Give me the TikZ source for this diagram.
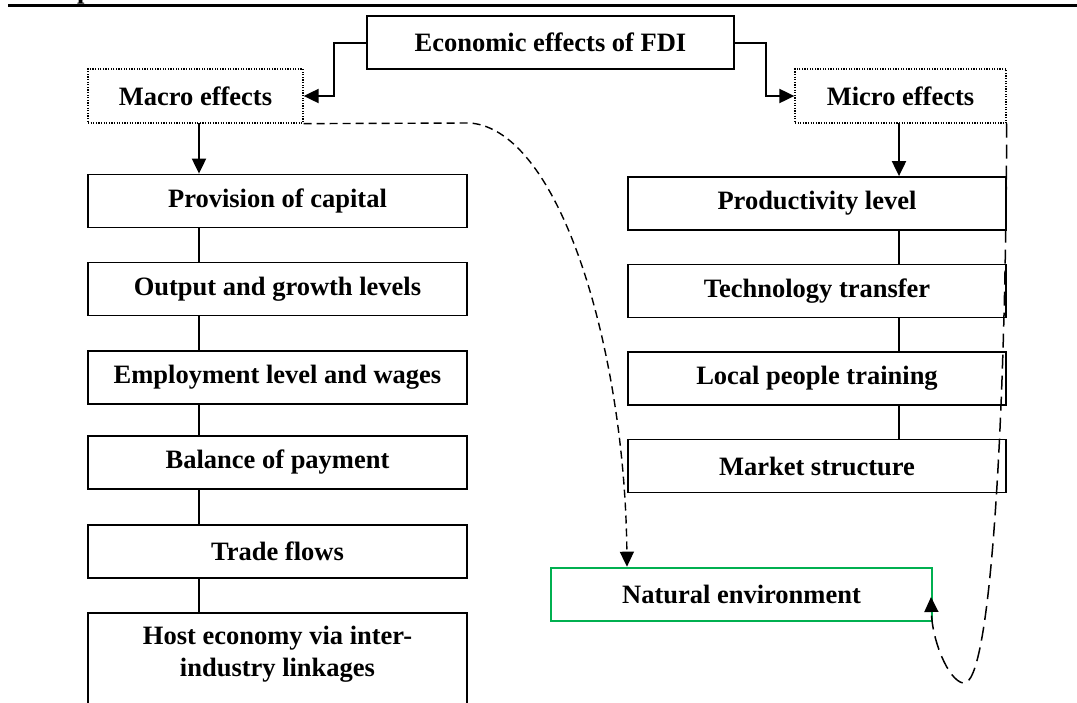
\documentclass[tikz,border=0pt]{standalone}
\usepackage{fontspec}
\setmainfont{Liberation Serif}
\usetikzlibrary{arrows.meta}
\definecolor{envgreen}{RGB}{0,176,80}
\begin{document}
\begin{tikzpicture}[x=1pt,y=-1pt,
  every node/.style={font=\bfseries\fontsize{26.5}{32}\selectfont, inner sep=0pt},
  solidbox/.style={draw, line width=1.8pt, minimum height=53pt},
  dotbox/.style={draw, line width=1.3pt, dash pattern=on 1.2pt off 1.4pt, minimum height=54pt},
  greenbox/.style={draw=envgreen, line width=2.6pt, minimum height=53pt},
  link/.style={line width=1.5pt},
  arr/.style={line width=2pt, -{Triangle[length=15pt,width=14pt]}},
  shortdash/.style={line width=1.4pt, dash pattern=on 8pt off 5pt, -{Triangle[length=15pt,width=14pt]}},
  longdash/.style={line width=1.5pt, dash pattern=on 14pt off 7pt, -{Triangle[length=15pt,width=14pt]}}
]
\useasboundingbox (0,0) rectangle (1077,702);
% top rule and the cut-off heading letter
\coordinate (ruleL) at (8,5.5);
\coordinate (ruleR) at (1077,5.5);
\draw[line width=2.6pt] (ruleL) -- (ruleR);
\node[anchor=base west] (headp) at (77,-1.5) {p};

% top
\node[solidbox, minimum width=367pt] (title) at (550.5,42.5) {Economic effects of FDI};
\node[dotbox, minimum width=215pt] (macro) at (195.5,96) {Macro effects};
\node[dotbox, minimum width=211pt] (micro) at (900.5,96) {Micro effects};

% left column
\node[solidbox, minimum width=379pt] (prov) at (277.5,201) {Provision of capital};
\node[solidbox, minimum width=379pt] (outp) at (277.5,289) {Output and growth levels};
\node[solidbox, minimum width=379pt] (empl) at (277.5,377.5) {Employment level and wages};
\node[solidbox, minimum width=379pt] (bal) at (277.5,462.5) {Balance of payment};
\node[solidbox, minimum width=379pt] (trade) at (277.5,551.5) {Trade flows};
\node[solidbox, minimum width=379pt, minimum height=120pt, anchor=north] (host) at (277.5,612) {};
\node[align=center] (hosttxt) at (277.5,654) {Host economy via inter-\\industry linkages};

% right column
\node[solidbox, minimum width=378pt] (prod) at (817,203.5) {Productivity level};
\node[solidbox, minimum width=378pt] (tech) at (817,291) {Technology transfer};
\node[solidbox, minimum width=378pt] (local) at (817,378.5) {Local people training};
\node[solidbox, minimum width=378pt] (market) at (817,466) {Market structure};

% natural environment
\node[greenbox, minimum width=381pt] (env) at (741.5,594.5) {Natural environment};

% connectors from title
\draw[arr] (title.west) -- ++(-32,0) |- (macro.east);
\draw[arr] (title.east) -- ++(31,0) |- (micro.west);

% left chain
\draw[arr] (199,123) -- (prov.north -| 199,0);
\draw[link] (prov.south -| 199,0) -- (outp.north -| 199,0);
\draw[link] (outp.south -| 199,0) -- (empl.north -| 199,0);
\draw[link] (empl.south -| 199,0) -- (bal.north -| 199,0);
\draw[link] (bal.south -| 199,0) -- (trade.north -| 199,0);
\draw[link] (trade.south -| 199,0) -- (host.north -| 199,0);

% right chain
\draw[arr] (899,123) -- (prod.north -| 899,0);
\draw[link] (prod.south -| 899,0) -- (tech.north -| 899,0);
\draw[link] (tech.south -| 899,0) -- (local.north -| 899,0);
\draw[link] (local.south -| 899,0) -- (market.north -| 899,0);

% dashed curves
\draw[shortdash] (macro.south east) -- (470,123)
  .. controls (560,130) and (625,350) .. (env.north -| 627,0);
\coordinate (loopbottom) at (963,683);
\draw[longdash] (micro.south east) .. controls (1006,400) and (992,690) .. (loopbottom)
  .. controls (948,680) and (932,640) .. (931,597);
\end{tikzpicture}
\end{document}
